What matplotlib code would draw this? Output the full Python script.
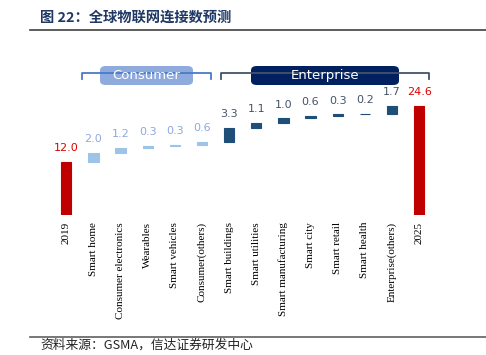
import numpy as np
import matplotlib.pyplot as plt
from matplotlib.patches import FancyBboxPatch
from matplotlib.lines import Line2D

plt.rcParams['font.family'] = ['Noto Sans CJK SC', 'DejaVu Sans']

# 数据
categories = ['2019', 'Smart home', 'Consumer electronics', 'Wearables', 'Smart vehicles',
              'Consumer(others)', 'Smart buildings', 'Smart utilities', 'Smart manufacturing',
              'Smart city', 'Smart retail', 'Smart health', 'Enterprise(others)', '2025']
values = [12.0, 2.0, 1.2, 0.3, 0.3, 0.6, 3.3, 1.1, 1.0, 0.6, 0.3, 0.2, 1.7, 24.6]
groups = ['total'] + ['consumer'] * 5 + ['enterprise'] * 7 + ['total']

bar_colors = {'total': '#C00000', 'consumer': '#9DC3E6', 'enterprise': '#1F4E79'}
label_colors = {'total': '#E00000', 'consumer': '#8EA9DB', 'enterprise': '#44546A'}

W, H = 486, 355
fig = plt.figure(figsize=(W / 100, H / 100), dpi=100)

# 坐标轴位置（像素 -> 比例）
ax = fig.add_axes([50 / W, (H - 215) / H, 385.4 / W, 132.9 / H])
ax.set_xlim(-0.6, len(categories) - 1 + 0.6)
ax.set_ylim(0, 30)

# 瀑布图底部
bottoms = []
running = 0.0
for v, g in zip(values, groups):
    if g == 'total':
        bottoms.append(0.0)
        running = v
    else:
        bottoms.append(running)
        running += v

x = np.arange(len(categories))
for xi, v, b, g in zip(x, values, bottoms, groups):
    c = bar_colors[g]
    ax.bar(xi, v, bottom=b, width=0.38, color=c, edgecolor=c, linewidth=0.8)
    ax.annotate('%.1f' % v, (xi, b + v), xytext=(0, 10), textcoords='offset points',
                ha='center', va='center', fontsize=8, color=label_colors[g],
                family='DejaVu Sans')

ax.set_xticks(x)
ax.set_xticklabels(categories, rotation=90, family='Liberation Serif', fontsize=8, va='top')
ax.tick_params(axis='x', length=0, pad=5)
ax.set_yticks([])
for s in ax.spines.values():
    s.set_visible(False)

# 分组括号
def bracket(x0, x1, y, color):
    fx = lambda p: p / W
    fy = lambda p: 1 - p / H
    fig.add_artist(Line2D([fx(x0), fx(x0), fx(x1), fx(x1)],
                          [fy(y + 6), fy(y), fy(y), fy(y + 6)],
                          color=color, linewidth=1.3))

def label_box(x0, x1, y0, y1, text, fc):
    box = FancyBboxPatch((x0 / W, 1 - y1 / H), (x1 - x0) / W, (y1 - y0) / H,
                         boxstyle='round,pad=0,rounding_size=0.012',
                         transform=fig.transFigure, facecolor=fc, edgecolor='none')
    fig.add_artist(box)
    fig.text((x0 + x1) / 2 / W, 1 - (y0 + y1) / 2 / H, text, ha='center', va='center',
             color='white', fontsize=9.5, family='DejaVu Sans')

bracket(82, 211, 73, '#4A7BC8')
label_box(100, 193, 66, 85, 'Consumer', '#8FAADC')
bracket(221, 429, 73, '#44546A')
label_box(251, 399, 66, 85, 'Enterprise', '#002060')

# 标题、分隔线与来源
fig.text(40 / W, 1 - 18 / H, '图 22：全球物联网连接数预测', ha='left', va='center',
         fontsize=10.3, fontweight='bold', color='#1F3864')
fig.add_artist(Line2D([30 / W, 1], [1 - 29.7 / H] * 2, color='#404040', linewidth=1.2))
fig.add_artist(Line2D([30 / W, 1], [1 - 336.7 / H] * 2, color='#606060', linewidth=1.2))
fig.text(40 / W, 1 - 345 / H, '资料来源：GSMA，信达证券研发中心', ha='left', va='center',
         fontsize=9.2, style='italic', color='#222222')

fig.savefig('out.png', dpi=100)
